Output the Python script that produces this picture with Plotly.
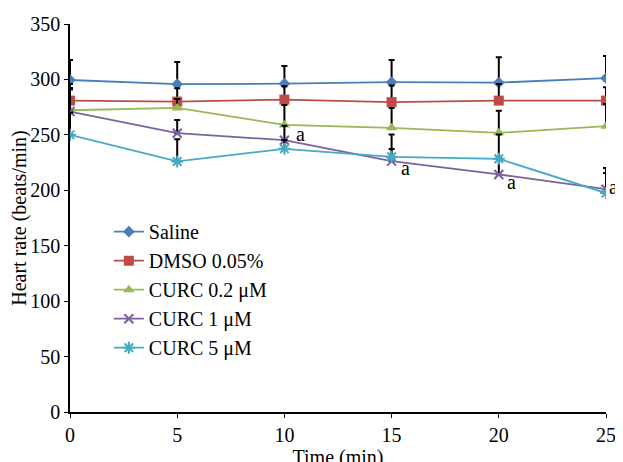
import plotly.graph_objects as go

time_min = [0, 5, 10, 15, 20, 25]

series_names = ["Saline", "DMSO 0.05%", "CURC 0.2 μM", "CURC 1 μM", "CURC 5 μM"]
saline = [299.5, 295.7, 296.2, 297.5, 297.1, 301.1]
dmso = [280.9, 280.0, 281.8, 279.5, 280.9, 280.9]
curc_02 = [272.2, 274.3, 259.0, 256.3, 251.8, 257.8]
curc_1 = [271.0, 251.5, 245.2, 226.3, 214.3, 201.0]
curc_5 = [250.0, 226.0, 237.4, 230.2, 228.4, 197.5]

saline_err = [18, 20, 16, 20, 23, 20]
dmso_err = [15, 12, 12, 15, 15, 12]
curc_02_err = [20, 8, 18, 18, 20, 20]
curc_1_err = [20, 12, 13, 24, 16, 19]
curc_5_err = [20, 20, 8, 7, 22, 18]

sig_label = "a"
sig_times = [10, 15, 20, 25]

values = [saline, dmso, curc_02, curc_1, curc_5]
errors = [saline_err, dmso_err, curc_02_err, curc_1_err, curc_5_err]
colors = ["#4a7ebb", "#be4b48", "#98b954", "#7d60a0", "#46aac5"]
symbols = ["diamond", "square", "triangle-up", "x-thin", "asterisk"]
msizes = [9, 10, 10, 9, 10]

FONT = "Liberation Serif"

fig = go.Figure()
for name, vals, errs, c, s, ms in zip(series_names, values, errors, colors, symbols, msizes):
    marker = dict(symbol=s, size=ms, color=c)
    if s in ("x-thin", "asterisk"):
        marker["line"] = dict(color=c, width=2)
    fig.add_trace(go.Scatter(
        x=time_min, y=vals, name=name, mode="lines+markers",
        line=dict(color=c, width=1.8),
        marker=marker,
        error_y=dict(type="data", symmetric=False, array=errs,
                     arrayminus=[0] * len(errs), color="black",
                     thickness=2, width=3),
    ))

# significance labels next to CURC 1 μM points
offsets = {10: (10, 6), 15: (7, -7), 20: (6, -8), 25: (1, 2)}
for t in sig_times:
    i = time_min.index(t)
    dx, dy = offsets[t]
    fig.add_annotation(x=t, y=curc_1[i], text=sig_label, showarrow=False,
                       xanchor="left", yanchor="middle",
                       xshift=dx, yshift=dy,
                       font=dict(family=FONT, size=20, color="black"))

fig.update_layout(
    width=623, height=462,
    margin=dict(l=62, r=25, t=16, b=58),
    paper_bgcolor="white", plot_bgcolor="white",
    font=dict(family=FONT, size=20, color="black"),
    showlegend=True,
    legend=dict(x=0.0725, y=0.515, xanchor="left", yanchor="top",
                bgcolor="rgba(0,0,0,0)", font=dict(family=FONT, size=20),
                itemwidth=30, tracegroupgap=0),
)
fig.update_xaxes(
    range=[0, 25], tickvals=time_min, showgrid=False, zeroline=False,
    showline=True, linecolor="black", linewidth=1.5,
    ticks="outside", ticklen=4, tickcolor="black",
    tickfont=dict(family=FONT, size=20), automargin=False,
    title=dict(text="Time (min)", font=dict(family=FONT, size=20), standoff=4),
)
fig.update_yaxes(
    range=[0, 350], tickvals=[0, 50, 100, 150, 200, 250, 300, 350],
    showgrid=False, zeroline=False,
    showline=True, linecolor="black", linewidth=1.5,
    ticks="outside", ticklen=4, tickcolor="black",
    tickfont=dict(family=FONT, size=20), automargin=False,
    title=dict(text="Heart rate (beats/min)", font=dict(family=FONT, size=20), standoff=6),
)

fig.write_html("out.html")
